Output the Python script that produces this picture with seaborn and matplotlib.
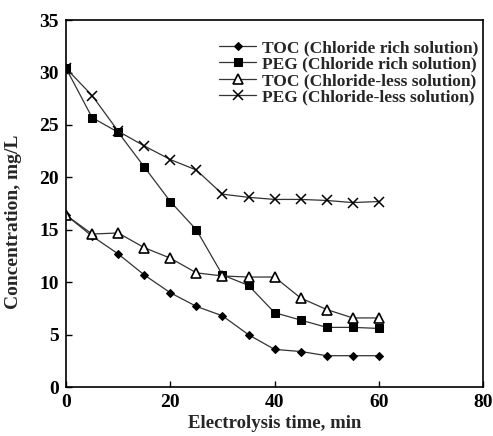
import matplotlib
matplotlib.use("Agg")
import matplotlib.pyplot as plt
import seaborn as sns
import pandas as pd

time_min = [0, 5, 10, 15, 20, 25, 30, 35, 40, 45, 50, 55, 60]
toc_rich = [16.4, 14.4, 12.7, 10.7, 9.0, 7.7, 6.8, 5.0, 3.6, 3.4, 3.0, 3.0, 3.0]
peg_rich = [30.4, 25.7, 24.3, 21.0, 17.7, 15.0, 10.7, 9.7, 7.1, 6.4, 5.7, 5.7, 5.6]
toc_less = [16.4, 14.6, 14.7, 13.3, 12.3, 10.9, 10.6, 10.5, 10.5, 8.5, 7.4, 6.6, 6.6]
peg_less = [30.4, 27.8, 24.4, 23.0, 21.7, 20.7, 18.4, 18.1, 17.9, 17.9, 17.8, 17.6, 17.7]
series_labels = ["TOC (Chloride rich solution)", "PEG (Chloride rich solution)",
                 "TOC (Chloride-less solution)", "PEG (Chloride-less solution)"]
x_ticks = [0, 20, 40, 60, 80]
y_ticks = [0, 5, 10, 15, 20, 25, 30, 35]

sns.set_style("ticks")
plt.rcParams['font.family'] = ['Liberation Serif', 'DejaVu Serif']

fig = plt.figure(figsize=(4.93, 4.36), dpi=100)
ax = fig.add_axes([0.134, 0.112, 0.846, 0.842])

styles = [
    dict(marker="D", markersize=4.5, markerfacecolor="black", markeredgecolor="black"),
    dict(marker="s", markersize=6, markerfacecolor="black", markeredgecolor="black"),
    dict(marker="^", markersize=7, markerfacecolor="white", markeredgecolor="black", markeredgewidth=1.2),
    dict(marker="x", markersize=7, markeredgecolor="black", markeredgewidth=1.1),
]
for vals, lab, st in zip([toc_rich, peg_rich, toc_less, peg_less], series_labels, styles):
    df = pd.DataFrame({"t": time_min, "c": vals})
    sns.lineplot(data=df, x="t", y="c", ax=ax, color="#333333", linewidth=0.9,
                 label=lab, **st)

ax.set_xlim(0, 80)
ax.set_ylim(0, 35)
ax.set_xticks(x_ticks)
ax.set_yticks(y_ticks)
ax.tick_params(direction="in", length=4, width=1, labelsize=14, colors="black", pad=5)
for lbl in ax.get_xticklabels() + ax.get_yticklabels():
    lbl.set_fontweight("bold")
for s in ax.spines.values():
    s.set_linewidth(1.2)
    s.set_color("black")
ax.set_xlabel("Electrolysis time, min", fontsize=13.5, fontweight="bold")
ax.set_ylabel("Concentration, mg/L", fontsize=14, fontweight="bold")
ax.xaxis.set_label_coords(0.5, -0.075)
ax.yaxis.set_label_coords(-0.105, 0.45)

leg = ax.legend(loc="upper right", bbox_to_anchor=(1.005, 0.965), frameon=False,
                prop={"size": 12.5, "weight": "bold"}, handlelength=2.1,
                handletextpad=0.35, labelspacing=0.02, borderaxespad=0.0)

fig.savefig("out.png", dpi=100)
